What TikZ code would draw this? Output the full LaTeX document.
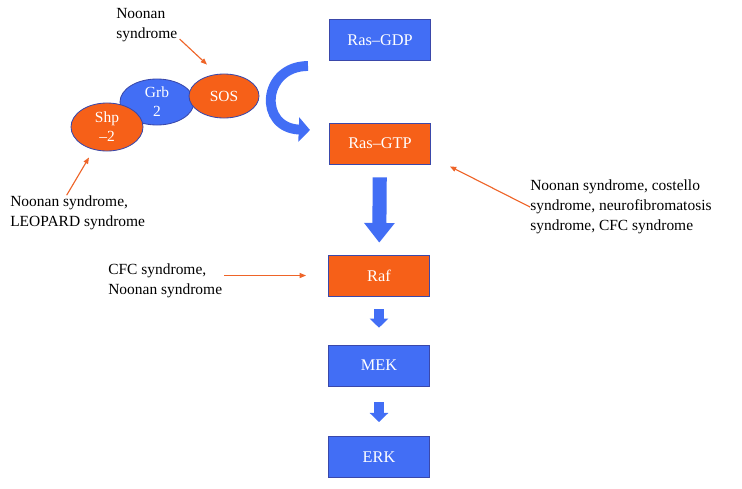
\documentclass[tikz,border=0pt]{standalone}
\usepackage{fontspec}
\setmainfont{Liberation Serif}
\usetikzlibrary{arrows.meta,shapes.geometric}
\definecolor{pathblue}{RGB}{66,110,245}
\definecolor{pathorange}{RGB}{246,96,24}
\definecolor{rimblue}{RGB}{58,72,170}
\definecolor{notered}{RGB}{238,100,40}

\begin{document}
\begin{tikzpicture}[x=0.025cm,y=-0.025cm,
  prot/.style={draw=rimblue,line width=0.6pt,minimum width=2.525cm,minimum height=1.025cm,inner sep=0pt,text=white,font=\fontsize{11.6}{13.5}\selectfont},
  bluebox/.style={prot,fill=pathblue},
  orangebox/.style={prot,fill=pathorange},
  blob/.style={ellipse,draw=rimblue,line width=0.6pt,inner sep=0pt,text=white,align=center,font=\fontsize{11}{13.5}\selectfont},
  note/.style={align=left,inner sep=0pt,anchor=west,font=\fontsize{11}{14.2}\selectfont},
  hint/.style={draw=notered,line width=0.8pt,-{Triangle[length=4.5pt,width=3.5pt]}},
  fat/.style={draw=pathblue,line width=10pt,-{Triangle[length=14pt,width=21pt]}},
  slim/.style={draw=pathblue,line width=7.8pt,-{Triangle[length=6.5pt,width=13pt]}},
  swoop/.style={draw=pathblue,line width=7pt,-{Triangle[length=8pt,width=17pt]}}]
          \useasboundingbox (0,0) rectangle (742,488);

          \node[bluebox] (gdp) at (380,40) {Ras--GDP};
          \node[orangebox] (gtp) at (380,143.5) {Ras--GTP};
          \node[orangebox] (raf) at (379,275.5) {Raf};
          \node[bluebox] (mek) at (379,365.5) {MEK};
          \node[bluebox] (erk) at (379,457) {ERK};

          \node[blob,fill=pathblue,minimum width=1.85cm,minimum height=1.15cm] (grb) at (157,102) {Grb\\2};
          \node[blob,fill=pathorange,minimum width=1.8cm,minimum height=1.2cm] (shp) at (107,127) {Shp\\--2};
          \node[blob,fill=pathorange,minimum width=1.75cm,minimum height=1.1cm] (sos) at (224,96) {SOS};

          \node[note] (nsos) at (116,25) {Noonan\\syndrome};
          \node[note] (nshp) at (10,212.5) {Noonan syndrome,\\LEOPARD syndrome};
          \node[note] (nras) at (530,207) {Noonan syndrome, costello\\syndrome, neurofibromatosis\\syndrome, CFC syndrome};
          \node[note] (nraf) at (108,280.5) {CFC syndrome,\\Noonan syndrome};

          \coordinate (swoopfrom) at (308,66);
          \coordinate (swoopto) at (310,130);
          \draw[swoop] (swoopfrom) .. controls (262,66) and (258,128) .. (swoopto);

          \draw[fat,shorten <=9.2pt,shorten >=8.5pt] (gtp) -- (raf);
          \draw[slim,shorten <=9.2pt,shorten >=12pt] (raf) -- (mek);
          \draw[slim,shorten <=11.3pt,shorten >=10pt] (mek) -- (erk);

          \draw[hint] ([shift={(2,-3)}]nsos.south east) -- ([shift={(-17,-9)}]sos.north);
          \draw[hint] ([shift={(-11,0)}]nshp.north) -- ([shift={(-18,6)}]shp.south);
          \draw[hint] (nras.west) -- ([shift={(19,2)}]gtp.south east);
          \draw[hint] ([shift={(2,-5)}]nraf.east) -- ([shift={(-22,0)}]raf.west);
        \end{tikzpicture}
\end{document}
